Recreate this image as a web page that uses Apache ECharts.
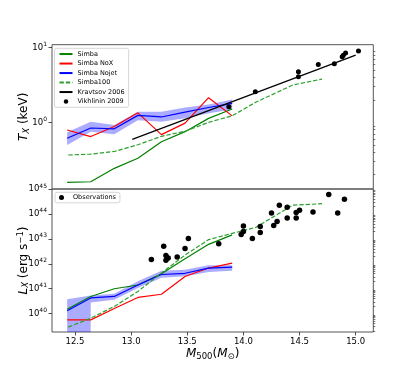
<!DOCTYPE html>
<html>
<head>
<meta charset="utf-8">
<script src="https://cdn.jsdelivr.net/npm/echarts@6/dist/echarts.min.js"></script>
<style>html,body{margin:0;padding:0;background:#fff}#c{width:415px;height:374px}</style>
</head>
<body>
<div id="c"></div>
<script>
// ---- data ----
// mass bins (log10 M500 / Msun) of the 50 Mpc/h runs
const massBins = [12.43, 12.64, 12.85, 13.06, 13.27, 13.48, 13.69, 13.90];
// Simba100 mass bins
const simba100Mass = [12.44, 12.64, 12.85, 13.06, 13.27, 13.48, 13.69, 13.90, 14.11, 14.44, 14.70];

// Top panel: T_X in keV
const simbaTx    = [0.157, 0.160, 0.242, 0.33, 0.55, 0.75, 1.13, 1.51];
const noxTx      = [0.79, 0.645, 0.88, 1.34, 0.684, 0.977, 2.14, 1.22];
const nojetTx    = [0.611, 0.84, 0.818, 1.24, 1.18, 1.37, 1.58, 1.79];
const nojetTxLo  = [0.497, 0.748, 0.69, 1.07, 1.02, 1.13, 1.32, 1.49];
const nojetTxHi  = [0.735, 1.02, 0.92, 1.39, 1.39, 1.58, 1.74, 2.03];
const simba100Tx = [0.365, 0.375, 0.407, 0.501, 0.65, 0.759, 1.0, 1.224, 1.86, 3.16, 3.8];
const kravMass   = [13.01, 15.0];
const kravTx     = [0.592, 7.94];
const vikhMass   = [13.87, 14.106, 14.49, 14.49, 14.667, 14.81, 14.88, 14.89, 14.91, 15.025];
const vikhTx     = [1.62, 2.57, 4.75, 4.07, 5.97, 6.1, 7.55, 7.94, 8.5, 9.0];

// Bottom panel: log10 L_X in erg/s
const simbaLx    = [40.18, 40.69, 41.0, 41.15, 41.6, 42.2, 42.78, 43.16];
const noxLx      = [39.75, 39.75, 40.21, 40.65, 40.78, 41.49, 41.83, 42.03];
const nojetLx    = [40.12, 40.63, 40.69, 41.15, 41.57, 41.62, 41.83, 41.87];
const nojetLxHi  = [40.58, 40.73, 40.8, 41.3, 41.72, 41.76, 41.94, 41.94];
const nojetLxLo  = [-300, 40.45, 40.56, 41.03, 41.44, 41.5, 41.67, 41.72]; // first bin: lower bound <= 0
const simba100Lx = [39.46, 39.82, 40.29, 40.89, 41.63, 42.35, 42.97, 43.22, 43.46, 44.35, 44.41];
const obsMass = [13.18, 13.29, 13.31, 13.31, 13.33, 13.41, 13.48, 13.51, 13.78, 13.98, 14.00, 14.00, 14.08, 14.15,
                 14.15, 14.25, 14.27, 14.30, 14.32, 14.39, 14.39, 14.47, 14.47, 14.50, 14.62, 14.76, 14.84, 14.90];
const obsLx   = [42.17, 42.70, 42.33, 42.14, 42.23, 42.27, 42.61, 43.01, 42.80, 43.18, 43.52, 43.30, 43.01, 43.50,
                 43.26, 44.04, 43.54, 43.70, 44.35, 44.27, 43.84, 44.06, 43.84, 44.15, 44.08, 44.78, 44.04, 44.59];

// tick labels
const xTicks = [12.5, 13.0, 13.5, 14.0, 14.5, 15.0];
const topExp = [0, 1];
const botExp = [40, 41, 42, 43, 44, 45];

// ---- helpers ----
const lg = v => Math.log10(v);
const pairs = (xs, ys, f) => xs.map((x, i) => [x, f ? f(ys[i]) : ys[i]]);
function minorTicks(lo, hi) {
  const out = [];
  for (let n = Math.floor(lo) - 1; n <= Math.ceil(hi); n++) {
    for (let k = 2; k <= 9; k++) {
      const v = n + Math.log10(k);
      if (v > lo && v < hi) out.push(v);
    }
  }
  return out;
}

const X_MIN = 12.295, X_MAX = 15.157;
const T_MIN = -0.893, T_MAX = 1.04;
const L_MIN = 39.265, L_MAX = 45;

const FONT = 'DejaVu Sans';
const expFmt = v => '{b|10}{s|' + Math.round(v) + '}';
const expRich = { b: { fontSize: 8.5, fontFamily: FONT, color: '#000' },
                  s: { fontSize: 6, fontFamily: FONT, color: '#000', padding: [0, 0, 6, 0] } };
const nameRich = {
  n: { fontSize: 12, fontFamily: FONT, color: '#000' },
  i: { fontSize: 12, fontFamily: FONT, fontStyle: 'italic', color: '#000' },
  sub: { fontSize: 8.5, fontFamily: FONT, color: '#000', padding: [5, 0, 0, 0] },
  subi: { fontSize: 8.5, fontFamily: FONT, fontStyle: 'italic', color: '#000', padding: [5, 0, 0, 0] },
  sup: { fontSize: 8.5, fontFamily: FONT, color: '#000', padding: [0, 0, 6, 0] }
};

const GREEN = '#008000', GREEN2 = '#2ca02c', RED = '#ff0000', BLUE = '#0000ff';
const LW = 1.2;
const BAND = 'rgba(0,0,255,0.33)';

function yMajor(grid, min, max, exps, name) {
  return {
    type: 'value', gridIndex: grid, min: min, max: max,
    axisLine: { show: false }, splitLine: { show: false },
    axisTick: { show: true, length: 3.5, customValues: exps, lineStyle: { color: '#222', width: 0.8 } },
    axisLabel: { customValues: exps, formatter: expFmt, rich: expRich, margin: 5, showMinLabel: true, showMaxLabel: true },
    name: name, nameLocation: 'middle', nameRotate: 90, nameGap: 21, nameMoveOverlap: false,
    nameTextStyle: { rich: nameRich }
  };
}
function yMinor(grid, min, max) {
  return {
    type: 'value', gridIndex: grid, min: min, max: max,
    axisLine: { show: false }, splitLine: { show: false }, axisLabel: { show: false },
    axisTick: { show: true, length: 2, customValues: minorTicks(min, max), lineStyle: { color: '#222', width: 0.6 } }
  };
}
function line(name, xi, yi, data, color, dashed) {
  return {
    type: 'line', name: name, xAxisIndex: xi, yAxisIndex: yi, data: data,
    symbol: 'none', showSymbol: false, smooth: false, z: 3,
    lineStyle: { color: color, width: LW, type: dashed ? [4.4, 1.9] : 'solid' },
    itemStyle: { color: color }
  };
}
// shaded range between lo and hi, drawn as one polygon through the axes' coord()
function band(xi, yi, xs, lo, hi) {
  return {
    type: 'custom', xAxisIndex: xi, yAxisIndex: yi, data: [[xs[0], hi[0]]],
    clip: true, silent: true, z: 2,
    renderItem: function (params, api) {
      const pts = [];
      for (let i = 0; i < xs.length; i++) pts.push(api.coord([xs[i], hi[i]]));
      for (let i = xs.length - 1; i >= 0; i--) pts.push(api.coord([xs[i], lo[i]]));
      return { type: 'polygon', shape: { points: pts }, style: { fill: BAND, stroke: null } };
    }
  };
}

const option = {
  animation: false,
  backgroundColor: '#fff',
  textStyle: { fontFamily: FONT },
  grid: [
    { left: 52, right: 41.7, top: 44.7, height: 144.3, show: true, borderColor: '#555', borderWidth: 1, containLabel: false },
    { left: 52, right: 41.7, top: 189, bottom: 42, show: true, borderColor: '#555', borderWidth: 1, containLabel: false }
  ],
  xAxis: [
    { type: 'value', gridIndex: 0, min: X_MIN, max: X_MAX, show: false },
    { type: 'value', gridIndex: 1, min: X_MIN, max: X_MAX,
      axisLine: { show: false }, splitLine: { show: false },
      axisTick: { show: true, length: 3.5, customValues: xTicks, lineStyle: { color: '#222', width: 0.8 } },
      axisLabel: { customValues: xTicks, formatter: v => v.toFixed(1), fontSize: 8.5, fontFamily: FONT, color: '#000', margin: 5 },
      name: '{i|M}{sub|500}{n|(}{i|M}{sub|⊙}{n|)}', nameLocation: 'middle', nameGap: 15, nameMoveOverlap: false,
      nameTextStyle: { rich: nameRich } }
  ],
  yAxis: [
    yMajor(0, T_MIN, T_MAX, topExp, '{i|T}{subi|X}{n| (keV)}'),
    yMinor(0, T_MIN, T_MAX),
    yMajor(1, L_MIN, L_MAX, botExp, '{i|L}{subi|X}{n| (erg s}{sup|−1}{n|)}'),
    yMinor(1, L_MIN, L_MAX)
  ],
  legend: [
    { left: 54.5, top: 48.3, orient: 'vertical', padding: [2, 4, 2, 4], itemGap: 2,
      itemWidth: 13, itemHeight: 4.5, borderColor: '#ccc', borderWidth: 0.8, borderRadius: 2,
      backgroundColor: 'rgba(255,255,255,0.8)',
      itemStyle: { opacity: 0 },
      textStyle: { fontSize: 6.5, fontFamily: FONT, color: '#000', lineHeight: 7.5 },
      data: ['Simba', 'Simba NoX', 'Simba Nojet', 'Simba100', 'Kravtsov 2006',
             { name: 'Vikhlinin 2009', icon: 'circle', itemStyle: { opacity: 1, color: '#000' } }] },
    { left: 55, top: 192.3, orient: 'vertical', padding: [1.5, 4, 1.5, 4],
      itemWidth: 13, itemHeight: 5, borderColor: '#ccc', borderWidth: 0.8, borderRadius: 2,
      backgroundColor: 'rgba(255,255,255,0.8)',
      textStyle: { fontSize: 6.5, fontFamily: FONT, color: '#000', lineHeight: 7.5 },
      data: [{ name: 'Observations', icon: 'circle', itemStyle: { opacity: 1, color: '#000' } }] }
  ],
  series: [
    band(0, 0, massBins, nojetTxLo.map(lg), nojetTxHi.map(lg)),
    line('Simba', 0, 0, pairs(massBins, simbaTx, lg), GREEN),
    line('Simba NoX', 0, 0, pairs(massBins, noxTx, lg), RED),
    line('Simba Nojet', 0, 0, pairs(massBins, nojetTx, lg), BLUE),
    line('Simba100', 0, 0, pairs(simba100Mass, simba100Tx, lg), GREEN2, true),
    line('Kravtsov 2006', 0, 0, pairs(kravMass, kravTx, lg), '#000'),
    { type: 'scatter', name: 'Vikhlinin 2009', xAxisIndex: 0, yAxisIndex: 0, data: pairs(vikhMass, vikhTx, lg),
      symbol: 'circle', symbolSize: 5, itemStyle: { color: '#000', opacity: 1 }, z: 4 },
    band(1, 2, massBins, nojetLxLo, nojetLxHi),
    line('Simba', 1, 2, pairs(massBins, simbaLx), GREEN),
    line('Simba NoX', 1, 2, pairs(massBins, noxLx), RED),
    line('Simba Nojet', 1, 2, pairs(massBins, nojetLx), BLUE),
    line('Simba100', 1, 2, pairs(simba100Mass, simba100Lx), GREEN2, true),
    { type: 'scatter', name: 'Observations', xAxisIndex: 1, yAxisIndex: 2, data: pairs(obsMass, obsLx),
      symbol: 'circle', symbolSize: 5.5, itemStyle: { color: '#000', opacity: 1 }, z: 4 }
  ]
};

const chart = echarts.init(document.getElementById('c'), null, { renderer: 'canvas' });
chart.setOption(option);
</script>
</body>
</html>
